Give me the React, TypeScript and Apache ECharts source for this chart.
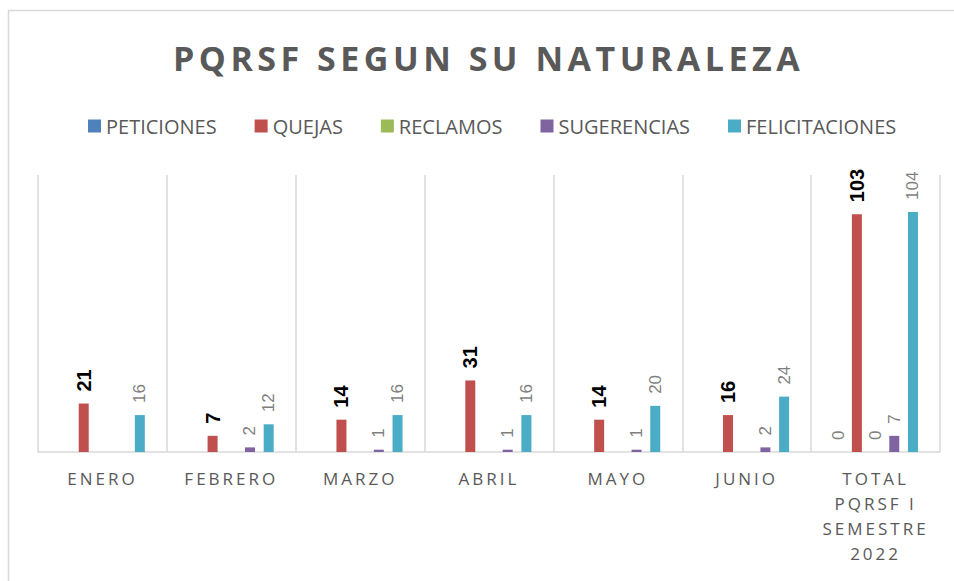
import React, { useEffect, useRef } from "react";
import * as echarts from "echarts";

const TITLE = "PQRSF SEGUN SU NATURALEZA";
const CATEGORIES = ["ENERO", "FEBRERO", "MARZO", "ABRIL", "MAYO", "JUNIO", "TOTAL PQRSF I SEMESTRE 2022"];
const TOTAL_LINES = ["TOTAL", "PQRSF I", "SEMESTRE", "2022"];
const SERIES_NAMES = ["PETICIONES", "QUEJAS", "RECLAMOS", "SUGERENCIAS", "FELICITACIONES"];
const PETICIONES = [null, null, null, null, null, null, 0];
const QUEJAS = [21, 7, 14, 31, 14, 16, 103];
const RECLAMOS = [null, null, null, null, null, null, 0];
const SUGERENCIAS = [null, 2, 1, 1, 1, 2, 7];
const FELICITACIONES = [16, 12, 16, 16, 20, 24, 104];
const COLORS = ["#4f81bd", "#c0504d", "#9bbb59", "#8064a2", "#4bacc6"];

const FONT = "'Open Sans', 'Liberation Sans', sans-serif";

export default function App() {
  const ref = useRef<HTMLDivElement>(null);
  useEffect(() => {
    if (!ref.current) return;
    const el = ref.current;
    const chart = echarts.init(el, null, { renderer: "svg" });
    const grayLabel = {
      show: true,
      position: "top",
      rotate: 90,
      align: "left",
      verticalAlign: "middle",
      distance: 12,
      color: "#7f7f7f",
      fontSize: 17,
      fontFamily: "'Liberation Sans', Arial, sans-serif",
    };
    const boldLabel = {
      ...grayLabel,
      color: "#000000",
      fontWeight: "bold",
      fontSize: 20,
    };
    const allData = [PETICIONES, QUEJAS, RECLAMOS, SUGERENCIAS, FELICITACIONES];
    const series = SERIES_NAMES.map((name, i) => ({
      name,
      type: "bar",
      data: allData[i],
      barWidth: 10,
      barGap: "87%",
      itemStyle: { color: COLORS[i] },
      label: i === 1 ? boldLabel : grayLabel,
    }));
    chart.setOption({
      animation: false,
      backgroundColor: "#ffffff",
      title: {
        text: TITLE,
        left: 168,
        top: 36,
        textStyle: {
          fontFamily: FONT,
          fontWeight: "bold",
          fontSize: 34,
          color: "#595959",
        },
      },
      legend: {
        top: 111,
        left: 83,
        itemWidth: 13,
        itemHeight: 13,
        itemGap: 38,
        icon: "rect",
        textStyle: { fontFamily: FONT, fontSize: 20, color: "#595959" },
        data: SERIES_NAMES,
      },
      grid: { left: 38, right: 14, top: 175, bottom: 129 },
      xAxis: {
        type: "category",
        data: CATEGORIES,
        axisLine: { lineStyle: { color: "#d9d9d9", width: 1.5 } },
        axisTick: { show: false },
        splitLine: { show: true, lineStyle: { color: "#d9d9d9", width: 1.5 } },
        axisLabel: {
          interval: 0,
          margin: 14,
          color: "#595959",
          fontFamily: FONT,
          fontSize: 17,
          lineHeight: 25,
          formatter: (v: string) => (v === CATEGORIES[6] ? TOTAL_LINES.join("\n") : v),
        },
      },
      yAxis: {
        type: "value",
        min: 0,
        max: 120,
        show: false,
        splitLine: { show: false },
      },
      graphic: [
        {
          type: "polyline",
          shape: { points: [[8.5, 600], [8.5, 10.5], [1000, 10.5]] },
          style: { stroke: "#d9d9d9", lineWidth: 1.5, fill: "none" },
          silent: true,
        },
      ],
      series,
    });
    const axisTexts = new Set([...CATEGORIES.slice(0, 6), ...TOTAL_LINES]);
    const applySpacing = () => {
      el.querySelectorAll("text").forEach((t) => {
        const s = (t.textContent || "").trim();
        if (s === TITLE) t.setAttribute("letter-spacing", "4.5");
        else if (axisTexts.has(s)) t.setAttribute("letter-spacing", "3");
      });
    };
    applySpacing();
    chart.on("finished", applySpacing);
    const timer = setTimeout(applySpacing, 50);
    return () => {
      clearTimeout(timer);
      chart.dispose();
    };
  }, []);
  return <div ref={ref} style={{ width: 954, height: 581, position: "absolute", left: 0, top: 0 }} />;
}
